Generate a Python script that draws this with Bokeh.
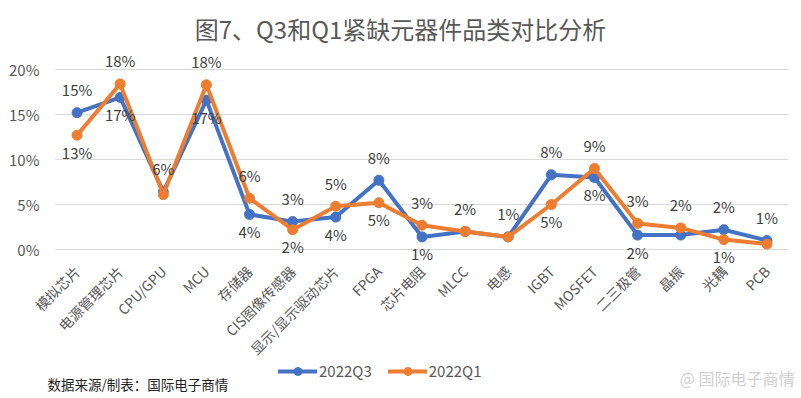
from math import pi
from bokeh.plotting import figure
from bokeh.models import (ColumnDataSource, LabelSet, Label, Legend, LegendItem,
                          FixedTicker, Range1d)
from bokeh.core.properties import value
from bokeh.embed import file_html
from bokeh.resources import INLINE

# ---------------- data ----------------
categories = ["模拟芯片", "电源管理芯片", "CPU/GPU", "MCU", "存储器", "CIS图像传感器",
              "显示/显示驱动芯片", "FPGA", "芯片电阻", "MLCC", "电感", "IGBT",
              "MOSFET", "二三极管", "晶振", "光耦", "PCB"]
q3_values = [15.2, 16.9, 6.4, 16.6, 3.9, 3.1, 3.6, 7.7, 1.4, 2.0, 1.4, 8.3, 8.0, 1.6, 1.6, 2.2, 1.0]
q1_values = [12.7, 18.4, 6.1, 18.3, 5.7, 2.2, 4.8, 5.2, 2.7, 2.0, 1.4, 5.0, 9.0, 2.9, 2.4, 1.1, 0.6]
series_names = ["2022Q3", "2022Q1"]
y_ticks = [0, 5, 10, 15, 20]
y_tick_labels = ["0%", "5%", "10%", "15%", "20%"]
title_text = "图7、Q3和Q1紧缺元器件品类对比分析"
source_text = "数据来源/制表：国际电子商情"
watermark_text = "@ 国际电子商情"

# ---------------- layout / styles ----------------
W, H = 801, 398
PLOT_L, PLOT_R = 55, 788      # pixel edges of the category band
Y0_PX, YMAX_PX = 249, 69      # pixel rows of 0% and 20%
FONT = "Noto Sans CJK SC"
BLUE = "#4472C4"
ORANGE = "#ED7D31"
GREY_TXT = "#595959"
LBL_TXT = "#404040"
GRID = "#d9d9d9"

n = len(categories)
xs = list(range(n))
x_lo, x_hi = -0.5, n - 0.5
y_lo, y_hi = y_ticks[0], y_ticks[-1]
XS = (PLOT_R - PLOT_L) / (x_hi - x_lo)        # px per category
YS = (Y0_PX - YMAX_PX) / (y_hi - y_lo)        # px per percent


def dx(px):
    return x_lo + (px - PLOT_L) / XS


def dy(py):
    return y_lo + (Y0_PX - py) / YS


# The frame covers the whole canvas so that no text gets clipped;
# the axes are pinned to the edges of the data band.
p = figure(width=W, height=H, output_backend="svg", toolbar_location=None,
           x_range=Range1d(dx(0), dx(W)), y_range=Range1d(dy(H), dy(0)),
           min_border=0)
p.outline_line_color = None
p.background_fill_color = "white"
p.border_fill_color = "white"

# y axis
p.yaxis.fixed_location = x_lo
p.yaxis.ticker = FixedTicker(ticks=y_ticks)
p.yaxis.major_label_overrides = {t: l for t, l in zip(y_ticks, y_tick_labels)}
p.yaxis.axis_line_color = None
p.yaxis.major_tick_line_color = None
p.yaxis.minor_tick_line_color = None
p.yaxis.major_tick_in = 0
p.yaxis.major_tick_out = 0
p.yaxis.major_label_standoff = 16
p.yaxis.major_label_text_font = FONT
p.yaxis.major_label_text_font_size = "15px"
p.yaxis.major_label_text_color = GREY_TXT

# x axis
p.xaxis.fixed_location = y_lo
p.xaxis.ticker = FixedTicker(ticks=xs)
p.xaxis.major_label_overrides = {i: c for i, c in zip(xs, categories)}
p.xaxis.major_label_orientation = pi / 4
p.xaxis.axis_line_color = None
p.xaxis.major_tick_line_color = None
p.xaxis.minor_tick_line_color = None
p.xaxis.major_tick_in = 0
p.xaxis.major_tick_out = 0
p.xaxis.major_label_standoff = 19
p.xaxis.major_label_text_font = FONT
p.xaxis.major_label_text_font_size = "14px"
p.xaxis.major_label_text_color = GREY_TXT

# grid lines limited to the data band
p.xgrid.grid_line_color = None
yg = p.ygrid[0]
if "cross_bounds" in yg.properties():
    yg.ticker = FixedTicker(ticks=y_ticks)
    yg.cross_bounds = (x_lo, x_hi)
    yg.grid_line_color = GRID
    yg.grid_line_width = 1.2
else:
    yg.grid_line_color = None
    p.segment(x0=[x_lo] * len(y_ticks), x1=[x_hi] * len(y_ticks), y0=y_ticks, y1=y_ticks,
              line_color=GRID, line_width=1.2, level="underlay")

# series
src = ColumnDataSource(dict(x=xs, q3=q3_values, q1=q1_values))
l3 = p.line("x", "q3", source=src, line_color=BLUE, line_width=4,
            line_join="round", line_cap="round")
s3 = p.scatter("x", "q3", source=src, size=10, fill_color=BLUE, line_color=BLUE)
l1 = p.line("x", "q1", source=src, line_color=ORANGE, line_width=4,
            line_join="round", line_cap="round")
s1 = p.scatter("x", "q1", source=src, size=10, fill_color=ORANGE, line_color=ORANGE)

# data labels: higher value above, lower below, a single label when both round equal
above = dict(x=[], y=[], t=[])
below = dict(x=[], y=[], t=[])
for i, a, b in zip(xs, q3_values, q1_values):
    ra, rb = round(a), round(b)
    hi, lo = (a, b) if a >= b else (b, a)
    rhi, rlo = (ra, rb) if a >= b else (rb, ra)
    above["x"].append(i); above["y"].append(hi); above["t"].append(f"{rhi}%")
    if rhi != rlo:
        below["x"].append(i); below["y"].append(lo); below["t"].append(f"{rlo}%")

for d, off in ((above, 23), (below, -17)):
    p.add_layout(LabelSet(x="x", y="y", text="t", source=ColumnDataSource(d),
                          y_offset=off, text_align="center", text_baseline="middle",
                          text_font=value(FONT), text_font_size=value("15px"),
                          text_color=LBL_TXT))

# legend
legend = Legend(items=[LegendItem(label=series_names[0], renderers=[l3, s3]),
                       LegendItem(label=series_names[1], renderers=[l1, s1])],
                orientation="horizontal", location=(278, 17),
                glyph_width=39, glyph_height=20, label_standoff=2, spacing=16,
                padding=0, margin=0, border_line_color=None,
                background_fill_alpha=0, label_text_font=FONT,
                label_text_font_size="15px", label_text_color=GREY_TXT)
p.add_layout(legend)

# title, source note, watermark
p.add_layout(Label(x=dx(400), y=dy(28), text=title_text, text_align="center",
                   text_baseline="middle", text_font=FONT, text_font_size="24px",
                   text_color=GREY_TXT))
p.add_layout(Label(x=dx(47), y=dy(383), text=source_text, text_align="left",
                   text_baseline="middle", text_font=FONT, text_font_size="13.5px",
                   text_color="#222222"))
p.add_layout(Label(x=dx(794), y=dy(377), text=watermark_text, text_align="right",
                   text_baseline="middle", text_font=FONT, text_font_size="16px",
                   text_color="#d0d0d0"))

open("out.html", "w").write(file_html(p, INLINE))
